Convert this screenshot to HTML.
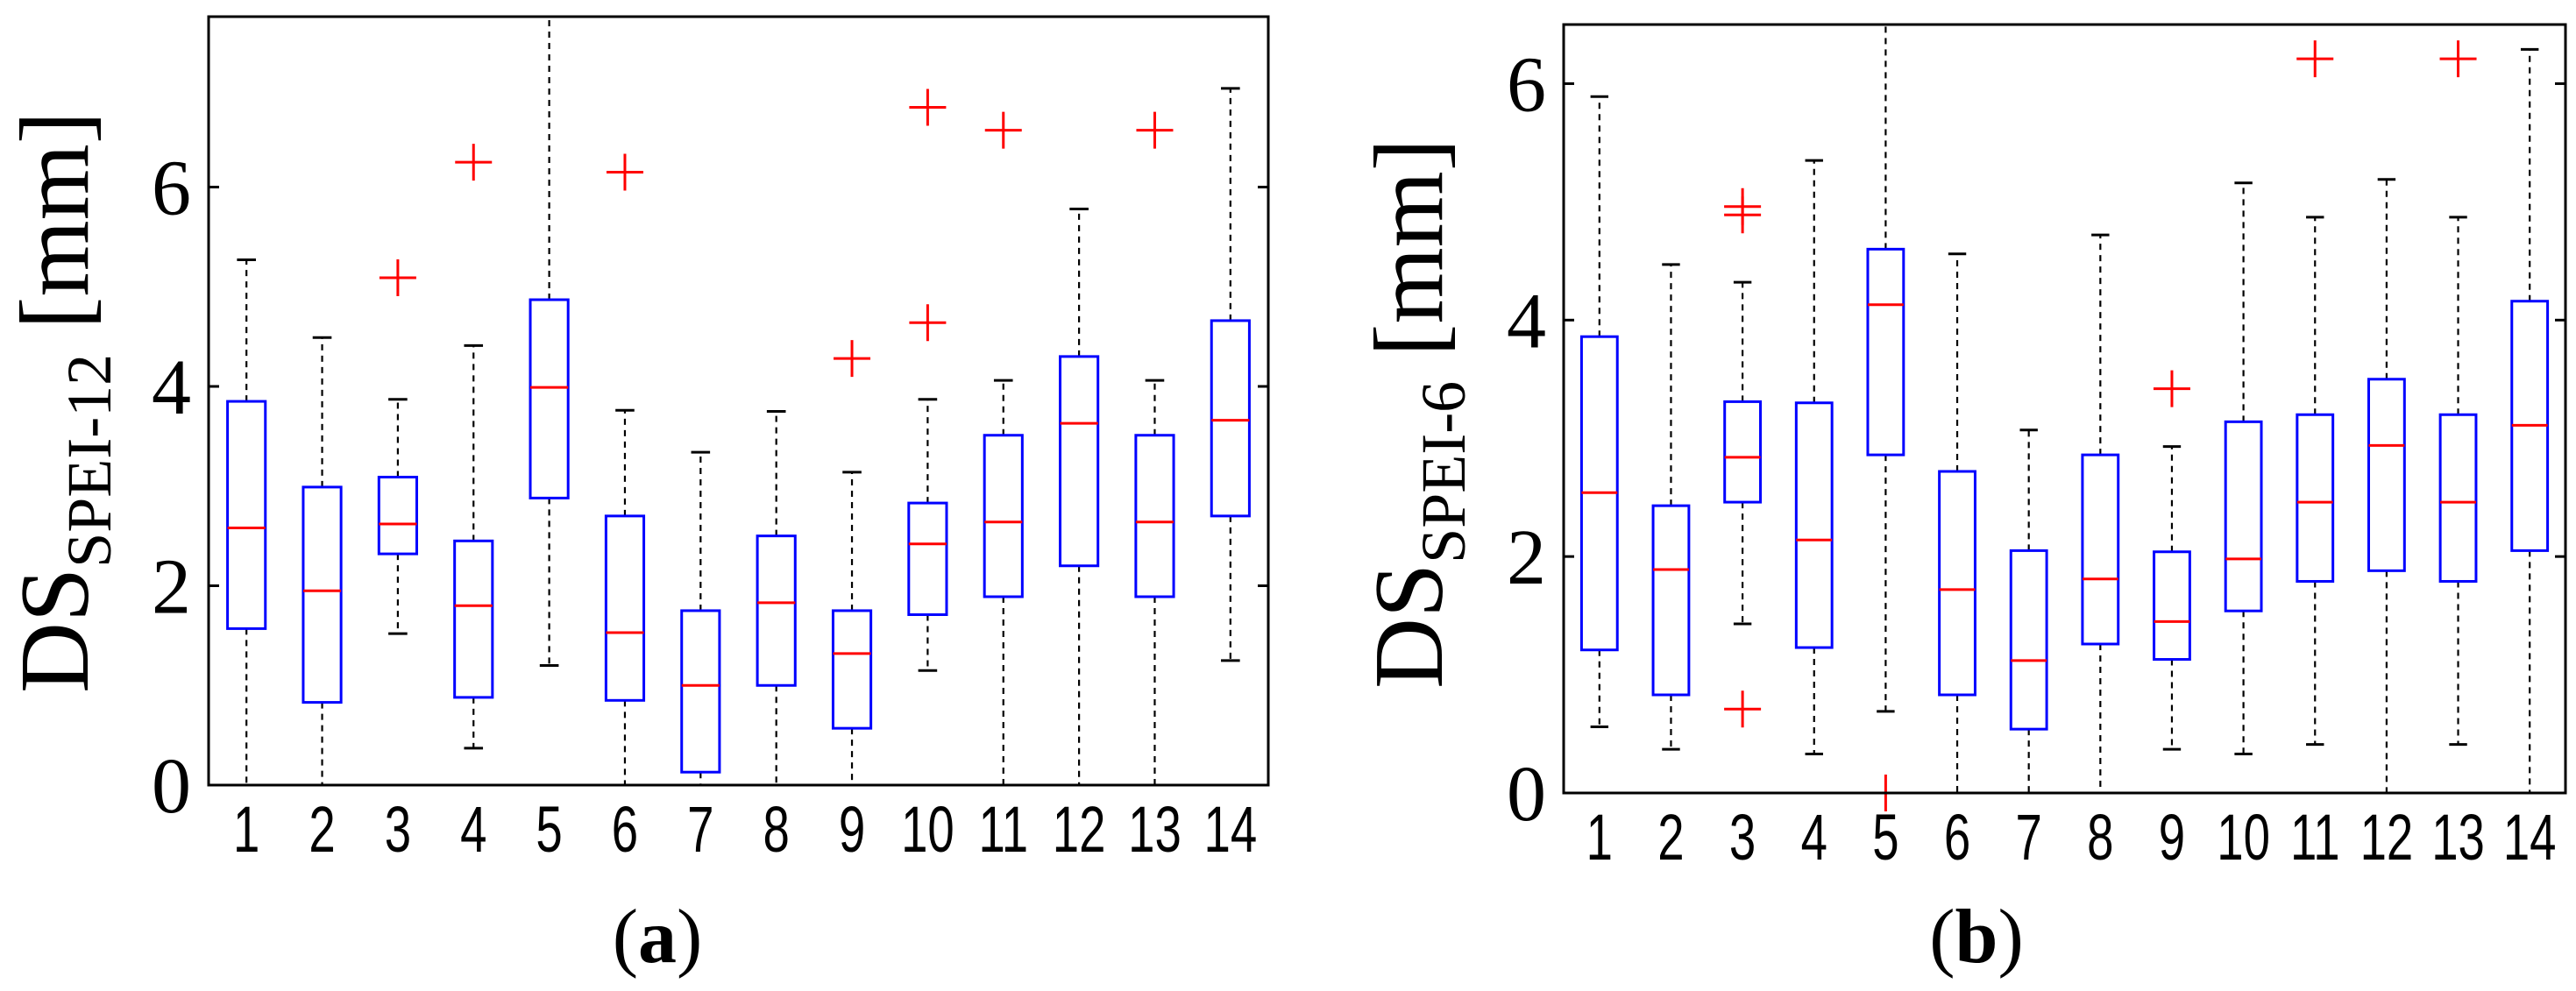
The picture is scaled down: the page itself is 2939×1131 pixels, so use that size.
<!DOCTYPE html>
<html><head><meta charset="utf-8"><style>
html,body{margin:0;padding:0;background:#fff;}
svg{display:block;}
</style></head><body>
<svg id="fig" width="2939" height="1131" viewBox="0 0 2939 1131" xmlns="http://www.w3.org/2000/svg"></svg>
<script>
const categories = [1,2,3,4,5,6,7,8,9,10,11,12,13,14];
// Panel (a) DS SPEI-12
const aLo  = [0,0,1.52,0.37,1.20,0,0,0,0,1.15,0,0,0,1.25];
const aQ1  = [1.57,0.83,2.32,0.88,2.88,0.85,0.13,1.0,0.57,1.71,1.89,2.20,1.89,2.70];
const aMed = [2.58,1.95,2.62,1.80,3.99,1.53,1.0,1.83,1.32,2.42,2.64,3.63,2.64,3.66];
const aQ3  = [3.85,2.99,3.09,2.45,4.87,2.70,1.75,2.5,1.75,2.83,3.51,4.30,3.51,4.66];
const aHi  = [5.27,4.49,3.87,4.41,8.5,3.76,3.34,3.75,3.14,3.87,4.06,5.78,4.06,6.99];
const aOutCat = [3,4,6,9,10,10,11,13];
const aOutVal = [5.09,6.25,6.15,4.28,4.64,6.80,6.57,6.57];
const aTicks = [0,2,4,6];
// Panel (b) DS SPEI-6
const bLo  = [0.56,0.37,1.43,0.33,0.69,0,0,0,0.37,0.33,0.41,0,0.41,0];
const bQ1  = [1.21,0.83,2.46,1.23,2.86,0.83,0.54,1.26,1.13,1.54,1.79,1.88,1.79,2.05];
const bMed = [2.54,1.89,2.84,2.14,4.13,1.72,1.12,1.81,1.45,1.98,2.46,2.94,2.46,3.11];
const bQ3  = [3.86,2.43,3.31,3.30,4.60,2.72,2.05,2.86,2.04,3.14,3.20,3.50,3.20,4.16];
const bHi  = [5.89,4.47,4.32,5.35,7.5,4.56,3.07,4.72,2.93,5.16,4.87,5.19,4.87,6.29];
const bOutCat = [3,3,3,5,9,11,13];
const bOutVal = [0.71,4.89,4.96,0,3.42,6.21,6.21];
const bTicks = [0,2,4,6];

const NS="http://www.w3.org/2000/svg";
const svg=document.getElementById('fig');
function mk(tag,attrs,parent){const e=document.createElementNS(NS,tag);for(const k in attrs)e.setAttribute(k,attrs[k]);(parent||svg).appendChild(e);return e;}

function panel(cfg){
  const g=mk('g',{});
  
  
  const {L,R,T,B,ymax}=cfg;
  const x=v=>L+(v-0.5)/14*(R-L);
  const y=v=>B-v/ymax*(B-T);
  const clip=mk('clipPath',{id:cfg.name+'-clip'},g);
  mk('rect',{x:L,y:T,width:R-L,height:B-T+30},clip);
  const pg=mk('g',{'clip-path':'url(#'+cfg.name+'-clip)'},g);
  const bw=0.25, cw=0.125;
  categories.forEach((c,i)=>{
    const bg=mk('g',{},pg);
    
    
    const cx=x(c);
    const d={stroke:'#000','stroke-width':2.2,'stroke-dasharray':'7,6'};
    mk('line',Object.assign({x1:cx,x2:cx,y1:y(cfg.q3[i]),y2:y(cfg.hi[i])},d),bg);
    mk('line',Object.assign({x1:cx,x2:cx,y1:y(cfg.q1[i]),y2:y(cfg.lo[i])},d),bg);
    const dx=(R-L)/14;
    mk('line',{x1:cx-cw*dx,x2:cx+cw*dx,y1:y(cfg.hi[i]),y2:y(cfg.hi[i]),stroke:'#000','stroke-width':3},bg);
    mk('line',{x1:cx-cw*dx,x2:cx+cw*dx,y1:y(cfg.lo[i]),y2:y(cfg.lo[i]),stroke:'#000','stroke-width':3},bg);
    mk('rect',{x:cx-bw*dx,y:y(cfg.q3[i]),width:2*bw*dx,height:y(cfg.q1[i])-y(cfg.q3[i]),fill:'none',stroke:'#0000ff','stroke-width':3},bg);
    mk('line',{x1:cx-bw*dx,x2:cx+bw*dx,y1:y(cfg.med[i]),y2:y(cfg.med[i]),stroke:'#ff0000','stroke-width':3},bg);
  });
  const og=mk('g',{},g);
  
  
  cfg.oc.forEach((c,i)=>{
    const cx=x(c), cy=y(cfg.ov[i]);
    mk('path',{d:`M${cx-21},${cy}H${cx+21}M${cx},${cy-21}V${cy+21}`,stroke:'#ff0000','stroke-width':3,fill:'none'},og);
  });
  const ax=mk('rect',{x:L,y:T,width:R-L,height:B-T,fill:'none',stroke:'#000','stroke-width':3},g);
  
  
  cfg.ticks.forEach(t=>{
    mk('line',{x1:L,x2:L+12,y1:y(t),y2:y(t),stroke:'#000','stroke-width':3},g);
    mk('line',{x1:R,x2:R-12,y1:y(t),y2:y(t),stroke:'#000','stroke-width':3},g);
    const tl=mk('text',{x:L-20,y:y(t)+31,'text-anchor':'end','font-family':'Liberation Serif, serif','font-size':90},g);
    tl.textContent=t;
    
    
  });
  categories.forEach(c=>{
    const tl=mk('text',{transform:`translate(${x(c)},${B+76}) scale(0.88,1.2)`,'text-anchor':'middle','font-family':'Liberation Sans, sans-serif','font-size':62},g);
    tl.textContent=c;
    
    
  });
  const yl=mk('text',{transform:`translate(${cfg.labX},${cfg.labY}) rotate(-90)`,'text-anchor':'middle','font-family':'Liberation Serif, serif','font-size':112},g);
  
  
  const t1=mk('tspan',{},yl);t1.textContent='DS';
  const t2=mk('tspan',{'font-size':72,dy:26},yl);t2.textContent=cfg.sub;
  const t3=mk('tspan',{dy:-26},yl);t3.textContent=' [mm]';
  const pl=mk('text',{x:cfg.pX,y:1098,'text-anchor':'middle','font-family':'Liberation Serif, serif','font-size':88},g);
  
  
  const p1=mk('tspan',{},pl);p1.textContent='(';
  const p2=mk('tspan',{'font-weight':'bold'},pl);p2.textContent=cfg.letter;
  const p3=mk('tspan',{},pl);p3.textContent=')';
}

panel({name:'panel-a',L:238,R:1447,T:19,B:896,ymax:7.71,lo:aLo,q1:aQ1,med:aMed,q3:aQ3,hi:aHi,oc:aOutCat,ov:aOutVal,ticks:aTicks,labX:100,labY:459,sub:'SPEI-12',pX:750,letter:'a'});
panel({name:'panel-b',L:1784,R:2927,T:28,B:905,ymax:6.5,lo:bLo,q1:bQ1,med:bMed,q3:bQ3,hi:bHi,oc:bOutCat,ov:bOutVal,ticks:bTicks,labX:1645,labY:472,sub:'SPEI-6',pX:2255,letter:'b'});
</script>
</body></html>
